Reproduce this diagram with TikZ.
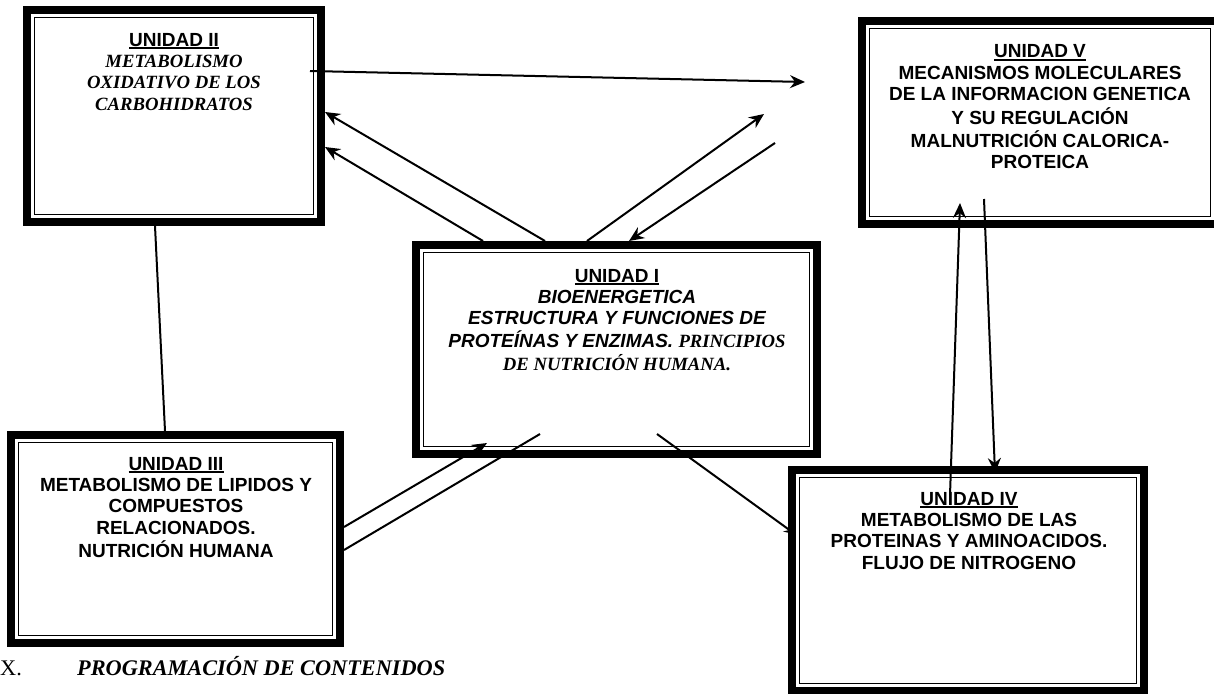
\documentclass[tikz,border=0pt]{standalone}
\usepackage{fontspec}
\setmainfont{Liberation Serif}
\setsansfont{Liberation Sans}
\usetikzlibrary{arrows.meta}
\newcommand\uhd[1]{\setbox0\hbox{#1}\leavevmode\rlap{\rule[-2.6pt]{\wd0}{1.7pt}}\box0}
\newcommand\tbi{\rmfamily\bfseries\itshape\fontsize{18.7}{21.4}\selectfont}
\newcommand\blk[1]{\begin{tabular}[t]{@{}c@{}}#1\end{tabular}}
\tikzset{
  unitbox/.style={rectangle, draw=black, line width=8pt, inner sep=0pt, anchor=north west},
  innerline/.style={draw=black, line width=1.5pt},
  boxtext/.style={anchor=base, inner sep=0pt, font=\fontsize{19}{21.4}\selectfont\sffamily\bfseries},
  conn/.style={line width=2pt},
  arr/.style={conn, -{Stealth[length=15pt,width=13pt,inset=5pt]}},
  captext/.style={anchor=base west, inner sep=0pt, font=\fontsize{22.3}{26}\selectfont}
}
\begin{document}
\begin{tikzpicture}[x=1pt,y=-1pt]
\fill[white] (0,0) rectangle (1214,693);
\useasboundingbox (0,0) rectangle (1214,693);

% free ends
\coordinate (c1s) at (310,71);
\coordinate (c1e) at (805,82);
\coordinate (c4e) at (764,114);
\coordinate (c5s) at (775,143);
\coordinate (c7e) at (487,443);
\coordinate (c8e) at (540,434);
\coordinate (c9s) at (657,434);
\coordinate (c9e) at (795,534);
\coordinate (c10s) at (950,495);
\coordinate (c10e) at (960,203);
\coordinate (c11s) at (984,199);
\coordinate (c11e) at (995,473);

% connector whose head hides under box IV border
\draw[conn, -{Stealth[length=11pt,width=10pt,inset=4pt]}] (c9s) -- (c9e);

% boxes
\node[unitbox, minimum width=294pt, minimum height=212pt] (b2) at (23,6) {};
\node[unitbox, minimum width=356pt, minimum height=203pt] (b5) at (858,17) {};
\node[unitbox, minimum width=401pt, minimum height=209pt] (b1) at (412,241) {};
\node[unitbox, minimum width=329pt, minimum height=208pt] (b3) at (7,431) {};
\node[unitbox, minimum width=352pt, minimum height=221pt] (b4) at (788,466) {};
\foreach \b in {b1,b2,b3,b4,b5}{
  \draw[innerline] ([shift={(11.5pt,-11.5pt)}]\b.north west) rectangle ([shift={(-11.5pt,11.5pt)}]\b.south east);
}

% texts
\node[boxtext] (t2) at (174,46) {\blk{\uhd{UNIDAD II}\\ \tbi METABOLISMO\\ \tbi OXIDATIVO DE LOS\\ \tbi CARBOHIDRATOS}};
\node[boxtext] (t5) at (1040,58) {\blk{\uhd{UNIDAD V}\\ MECANISMOS MOLECULARES\\ DE LA INFORMACION GENETICA\\ Y SU REGULACIÓN\\ MALNUTRICIÓN CALORICA-\\ PROTEICA}};
\node[boxtext] (t1) at (617,282) {\blk{\uhd{UNIDAD I}\\ \itshape BIOENERGETICA\\ \itshape ESTRUCTURA Y FUNCIONES DE\\ {\itshape PROTEÍNAS Y ENZIMAS.} {\tbi PRINCIPIOS}\\ \tbi DE NUTRICIÓN HUMANA.}};
\node[boxtext] (t3) at (176,470) {\blk{\uhd{UNIDAD III}\\ METABOLISMO DE LIPIDOS Y\\ COMPUESTOS\\ RELACIONADOS.\\ NUTRICIÓN HUMANA}};
\node[boxtext] (t4) at (969,505) {\blk{\uhd{UNIDAD IV}\\ METABOLISMO DE LAS\\ PROTEINAS Y AMINOACIDOS.\\ FLUJO DE NITROGENO}};

% caption
\node[captext] (capx) at (0,675) {X.};
\node[captext] (capt) at (77,675) {\tbi\fontsize{22.3}{26}\selectfont PROGRAMACIÓN DE CONTENIDOS};

% connectors
\draw[arr] (c1s) -- (c1e);
\draw[arr] (545,0 |- b1.north) -- (b2.east |- 0,112);
\draw[arr] (483,0 |- b1.north) -- (b2.east |- 0,147);
\draw[arr] (587,0 |- b1.north) -- (c4e);
\draw[arr] (c5s) -- (629,0 |- b1.north);
\draw[conn] (155,0 |- b2.south) -- (165,0 |- b3.north);
\draw[arr] (b3.east |- 0,527) -- (c7e);
\draw[conn] (b3.east |- 0,550) -- (c8e);
\draw[arr] (c10s) -- (c10e);
\draw[arr] (c11s) -- (c11e);
\end{tikzpicture}
\end{document}
